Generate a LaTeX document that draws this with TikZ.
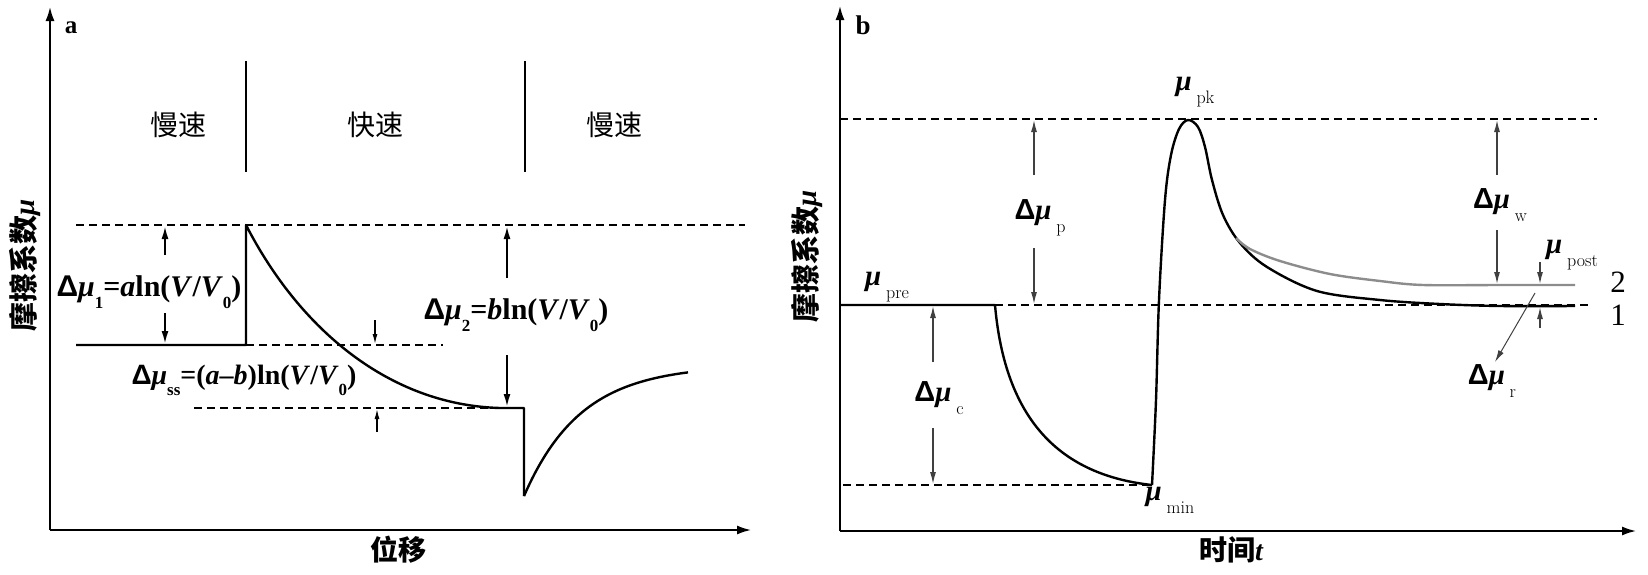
\documentclass[tikz,border=0pt]{standalone}
\usepackage{fontspec}
\usetikzlibrary{arrows.meta}
\newfontfamily\cjk{Noto Sans CJK SC}
\newfontfamily\tnr{Liberation Serif}
\newfontfamily\sfD{Liberation Sans}
\newcommand{\Dl}{{\sfD\bfseries Δ}}
\newcommand{\mub}{{\tnr\bfseries\itshape μ}}
\newcommand{\lsa}[1]{\raisebox{-0.4em}{\fontsize{17}{17}\selectfont #1}}
\newcommand{\lsb}[1]{\,\raisebox{-0.45em}{\rmfamily\mdseries\upshape\fontsize{18}{18}\selectfont #1}}
\tikzset{
  axis/.style={line width=2.8pt,-{Latex[length=15pt,width=9pt]}},
  curve/.style={line width=2.4pt,line join=round},
  gcurve/.style={line width=2.4pt,color=black!45},
  dline/.style={line width=2.4pt,dash pattern=on 8pt off 5pt},
  sep/.style={line width=2pt},
  tarrow/.style={line width=2pt,-{Latex[length=13pt,width=7pt]}},
  sarrow/.style={line width=1.3pt,-{Latex[length=10pt,width=5pt]}},
  barrow/.style={line width=1.3pt,color=black!75,-{Latex[length=12pt,width=6pt]}},
  lab/.style={inner sep=0pt,font=\fontsize{29}{32}\selectfont},
  cjklab/.style={inner sep=0pt,font=\cjk\fontsize{28}{30}\selectfont},
}
\begin{document}
\begin{tikzpicture}[x=1pt,y=-1pt]
\useasboundingbox (0,0) rectangle (1648,574);
% ===== Panel a =====
\coordinate (aO) at (50,530);
\coordinate (aY) at (50,6);
\coordinate (aX) at (752,530);
\draw[axis] (aO) -- (aY);
\draw[axis] (aO) -- (aX);
\node[lab,font=\tnr\bfseries\fontsize{25}{26}\selectfont] (alab) at (71,28) {a};
\coordinate (s1t) at (246,61); \coordinate (s1b) at (246,172);
\coordinate (s2t) at (525,61); \coordinate (s2b) at (525,172);
\draw[sep] (s1t) -- (s1b);
\draw[sep] (s2t) -- (s2b);
\node[cjklab] (slow1) at (178,125) {慢速};
\node[cjklab] (fast) at (375,125) {快速};
\node[cjklab] (slow2) at (614,125) {慢速};
% dashed levels
\draw[dline] (76,225) -- (745,225);
\draw[dline] (246,345) -- (443,345);
\draw[dline] (194,408) -- (500,408);
% curve
\coordinate (a0) at (76,345);
\coordinate (a1) at (246,345);
\coordinate (a2) at (246,225);
\coordinate (a3) at (500,408);
\coordinate (a4) at (524,408);
\coordinate (a5) at (524,496);
\draw[curve] (a0) -- (a1) -- (a2) .. controls (300,330) and (390,405) .. (a3) -- (a4) -- (a5);
\draw[curve] plot[domain=524:688,samples=60] (\x,{365+131*exp(-(\x-524)/57)});
% delta mu 1
\coordinate (d1a) at (165,255); \coordinate (d1at) at (165,226);
\coordinate (d1b) at (165,313); \coordinate (d1bt) at (165,344);
\draw[tarrow] (d1a) -- (d1at);
\draw[tarrow] (d1b) -- (d1bt);
\node[lab,font=\tnr\bfseries\fontsize{30}{32}\selectfont] (dmu1) at (149,292) {\Dl\mub\lsa{1}=\textit{a}ln(\textit{V}/\textit{V}\lsa{0})};
% delta mu ss
\coordinate (ssa) at (375,320); \coordinate (ssat) at (375,344);
\coordinate (ssb) at (377,432); \coordinate (ssbt) at (377,409);
\draw[sarrow] (ssa) -- (ssat);
\draw[sarrow] (ssb) -- (ssbt);
\node[lab,font=\tnr\bfseries\fontsize{28}{30}\selectfont] (dmuss) at (244,380) {\Dl\mub\lsa{ss}=(\textit{a}–\textit{b})ln(\textit{V}/\textit{V}\lsa{0})};
% delta mu 2
\coordinate (d2a) at (507,278); \coordinate (d2at) at (507,226);
\coordinate (d2b) at (507,355); \coordinate (d2bt) at (507,407);
\draw[tarrow] (d2a) -- (d2at);
\draw[tarrow] (d2b) -- (d2bt);
\node[lab,font=\tnr\bfseries\fontsize{30}{32}\selectfont] (dmu2) at (516,315) {\Dl\mub\lsa{2}=\textit{b}ln(\textit{V}/\textit{V}\lsa{0})};
% axis labels
\node[cjklab,rotate=90,font=\cjk\bfseries\fontsize{29}{30}\selectfont] (aylab) at (25,265) {摩擦系数\mub};
\node[cjklab,font=\cjk\bfseries\fontsize{28}{30}\selectfont] (axlab) at (398,550) {位移};
% ===== Panel b =====
\coordinate (bO) at (840,531);
\coordinate (bY) at (840,5);
\coordinate (bX) at (1637,531);
\draw[axis] (bO) -- (bY);
\draw[axis] (bO) -- (bX);
\node[lab,font=\tnr\bfseries\fontsize{27}{28}\selectfont] (blab) at (863,25) {b};
\draw[dline] (840,119) -- (1597,119);
\draw[dline] (995,305) -- (1588,305);
\draw[dline] (843,485) -- (1152,485);
\coordinate (b0) at (840,305);
\coordinate (b1) at (995,305);
\coordinate (b2) at (1152,485);
\draw[curve] (b0) -- (b1) .. controls (1005,420) and (1060,475) .. (b2);
\draw[curve] plot[smooth,tension=0.55] coordinates {(1152,485) (1156,400) (1159,300) (1165,200) (1171,155) (1179,129) (1188,120) (1198,127) (1205,147) (1212,180) (1223,215) (1240,243) (1267,267) (1317,291) (1380,300) (1440,304) (1500,306) (1575,306)};
\draw[gcurve] plot[smooth,tension=0.55] coordinates {(1236,238) (1250,249) (1280,261) (1330,274) (1380,281) (1423,285) (1500,285) (1575,285)};
% delta mu p
\coordinate (dpa) at (1034,175); \coordinate (dpat) at (1034,120);
\coordinate (dpb) at (1034,248); \coordinate (dpbt) at (1034,304);
\draw[barrow] (dpa) -- (dpat);
\draw[barrow] (dpb) -- (dpbt);
\node[lab] (dmup) at (1040,218) {\Dl\mub\lsb{p}};
% delta mu c
\coordinate (dca) at (933,362); \coordinate (dcat) at (933,306);
\coordinate (dcb) at (933,428); \coordinate (dcbt) at (933,484);
\draw[barrow] (dca) -- (dcat);
\draw[barrow] (dcb) -- (dcbt);
\node[lab] (dmuc) at (939,398) {\Dl\mub\lsb{c}};
% mu labels
\node[lab,anchor=west] (mupre) at (865,287) {\mub\lsb{pre}};
\node[lab] (mumin) at (1170,500) {\mub\lsb{min}};
\node[lab] (mupk) at (1195,92) {\mub\lsb{pk}};
% delta mu w
\coordinate (dwa) at (1497,175); \coordinate (dwat) at (1497,120);
\coordinate (dwb) at (1497,230); \coordinate (dwbt) at (1497,284);
\draw[barrow] (dwa) -- (dwat);
\draw[barrow] (dwb) -- (dwbt);
\node[lab] (dmuw) at (1500,205) {\Dl\mub\lsb{w}};
% mu post
\coordinate (mpa) at (1540,262); \coordinate (mpat) at (1540,284);
\coordinate (mpb) at (1540,328); \coordinate (mpbt) at (1540,307);
\draw[barrow] (mpa) -- (mpat);
\draw[barrow] (mpb) -- (mpbt);
\node[lab,anchor=west] (mupost) at (1546,255) {\mub\lsb{post}};
% delta mu r
\coordinate (dra) at (1535,293); \coordinate (drat) at (1495,362);
\draw[barrow,line width=1pt] (dra) -- (drat);
\node[lab] (dmur) at (1492,381) {\Dl\mub\lsb{r}};
% curve numbers
\node[lab,font=\tnr\fontsize{31}{32}\selectfont] (n2) at (1618,282) {2};
\node[lab,font=\tnr\fontsize{31}{32}\selectfont] (n1) at (1618,315) {1};
% axis labels
\node[cjklab,rotate=90,font=\cjk\bfseries\fontsize{29}{30}\selectfont] (bylab) at (807,256) {摩擦系数\mub};
\node[cjklab,font=\cjk\bfseries\fontsize{28}{30}\selectfont] (bxlab) at (1231,550) {时间{\tnr\bfseries\itshape t}};
\end{tikzpicture}
\end{document}
